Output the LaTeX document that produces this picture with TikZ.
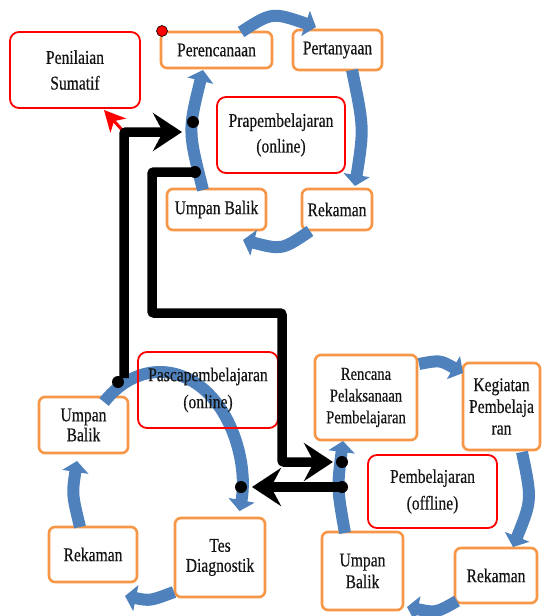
\documentclass[tikz,border=0pt]{standalone}
\usepackage{fontspec}
\setmainfont{Liberation Serif}
\newfontfamily\diafont[FakeStretch=0.8,FakeBold=0.4]{Liberation Serif}
\usetikzlibrary{arrows.meta,calc}
\definecolor{boxorange}{HTML}{F79646}
\definecolor{cycblue}{HTML}{4F81BD}
\definecolor{txtcol}{HTML}{141414}
\begin{document}
\begin{tikzpicture}[x=1pt,y=-1pt,
  lsp/.style={font=\diafont\fontsize{19.5}{#1}\selectfont},
  lss/.style={font=\diafont\fontsize{18.3}{#1}\selectfont},
  obox/.style={draw=boxorange, line width=2.6pt, rounded corners=6pt, fill=white, align=center, inner sep=0pt, text=txtcol, lsp=21},
  rbox/.style={draw=red, line width=1.8pt, rounded corners=9pt, align=center, inner sep=0pt, text=txtcol, lsp=26},
  cyc/.style={draw=cycblue, line width=12pt, -{Triangle[length=11pt,width=26pt]}},
  dot/.style={circle, fill=black, inner sep=0pt, minimum size=12pt},
  flow/.style={draw=black, line width=9.5pt, rounded corners=2pt, -{Stealth[length=29pt,width=38pt,inset=10pt]}},
  redarrow/.style={draw=red, line width=3pt, -{Stealth[length=21pt,width=21pt,inset=6pt]}},
]
\useasboundingbox (0,0) rectangle (542,616);

% ---------- cycle centres and dot positions
\coordinate (c2) at (160,484);
\coordinate (td1) at (193,122);
\coordinate (td2) at (195,172);
\coordinate (bd1) at (118,382);
\coordinate (bd2) at (241,487);
\coordinate (rd1) at (342,462);
\coordinate (rd2) at (342,487);
\coordinate (redtip) at (104,110);
\coordinate (f1s) at ($(bd1)+(6,-4)$);
\coordinate (f1e) at ($(td1)+(-11,10)$);
\coordinate (corner1) at (f1s |- f1e);

% ---------- orange boxes
\node[obox, minimum width=111pt, minimum height=36pt] (per) at (216.5,50) {Perencanaan};
\node[obox, minimum width=89pt, minimum height=40pt] (pert) at (337.5,50) {Pertanyaan};
\node[obox, minimum width=99pt, minimum height=41pt] (ub1) at (216.5,209.5) {Umpan Balik};
\node[obox, minimum width=70pt, minimum height=41pt] (rek1) at (337,209.5) {Rekaman};

\node[obox, lsp=20, minimum width=89pt, minimum height=56pt] (ub2) at (83.5,425) {Umpan\\Balik};
\node[obox, minimum width=88pt, minimum height=55pt] (rek2) at (93,554.5) {Rekaman};
\node[obox, lsp=20, minimum width=90pt, minimum height=79pt] (tes) at (220,557.5) {Tes\\Diagnostik};

\node[obox, lss=21.7, minimum width=102pt, minimum height=85pt] (rpp) at (366,397.5) {Rencana\\Pelaksanaan\\Pembelajaran};
\node[obox, lsp=21.7, minimum width=77pt, minimum height=87pt] (keg) at (501.5,406.5) {Kegiatan\\Pembelaja\\ran};
\node[obox, lsp=21.7, minimum width=81pt, minimum height=78pt] (ub3) at (362.5,571) {Umpan\\Balik};
\node[obox, minimum width=82pt, minimum height=55pt] (rek3) at (496,575.5) {Rekaman};

% ---------- blue cycle arrows
% top cycle
\draw[cyc] (241,32) .. controls (272,12) .. (316,27);
\draw[cyc] (352,70) .. controls (364,128) .. (355,186);
\draw[cyc] (310,231) .. controls (282,250) .. (243,240);
\draw[cyc] (203,190) .. controls (188,131) .. (203,70);
% bottom-left cycle
\draw[cyc] ($(c2)+(-133:82 and 112)$) arc[start angle=-133, end angle=14, x radius=82, y radius=112];
\draw[cyc] (174,592) .. controls (150,601) .. (125,596);
\draw[cyc] (80,527) .. controls (72,494) .. (77,461);
% bottom-right cycle
\draw[cyc] (419,364) .. controls (440,360) .. (463,373);
\draw[cyc] (522,452) .. controls (532,500) .. (513,547);
\draw[cyc] (457,601) .. controls (436,613) .. (407,607);
\draw[cyc] (345,533) .. controls (337,488) .. (343,441);

% ---------- red boxes
\node[rbox, lsp=25.7, minimum width=130pt, minimum height=76pt] (pen) at (75,70) {Penilaian\\Sumatif};
\node[rbox, lsp=25.6, minimum width=128pt, minimum height=76pt] (pra) at (281,135) {Prapembelajaran\\(online)};
\node[rbox, lsp=27, minimum width=140pt, minimum height=76pt] (pasca) at (208,390) {Pascapembelajaran\\(online)};
\node[rbox, lsp=26.7, minimum width=129pt, minimum height=73pt] (pemb) at (432.5,491.5) {Pembelajaran\\(offline)};

% ---------- flows
\draw[redarrow] (corner1) -- (redtip);
\draw[flow] (f1s) |- (f1e);
\draw[flow] (td2) -- (152,172) -- (152,313) -- (282,313) -- ($(rd1)+(-60,0)$) -- ($(rd1)+(-9,0)$);
\draw[flow] (rd2) -- ($(bd2)+(11,0)$);

% ---------- dots
\node[dot] (td1n) at (td1) {};
\node[dot] (td2n) at (td2) {};
\node[dot] (bd1n) at (bd1) {};
\node[dot] (bd2n) at (bd2) {};
\node[dot] (rd1n) at (rd1) {};
\node[dot] (rd2n) at (rd2) {};
\node[circle, fill=red, draw=black, line width=0.6pt, inner sep=0pt, minimum size=11pt] (startdot) at (162,31) {};
\end{tikzpicture}
\end{document}
